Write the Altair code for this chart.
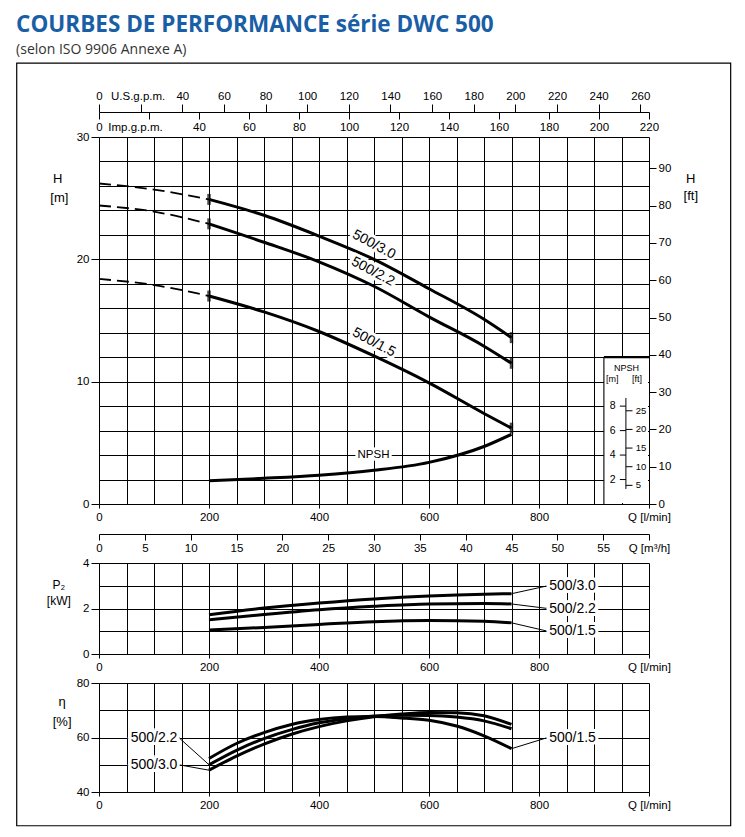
import altair as alt
import pandas as pd

# ---------------- data ----------------
SERIES = ["500/3.0", "500/2.2", "500/1.5"]

# H (m) vs Q (l/min)
Q_DASH = [0, 100, 200]
Q_SOLID = [200, 300, 400, 500, 600, 700, 750]
H_DASH = {
    "500/3.0": [26.2, 25.7, 24.9],
    "500/2.2": [24.4, 23.9, 22.9],
    "500/1.5": [18.4, 17.9, 17.0],
}
H_SOLID = {
    "500/3.0": [24.9, 23.6, 21.9, 20.0, 17.6, 15.1, 13.6],
    "500/2.2": [22.9, 21.4, 19.8, 17.8, 15.3, 12.9, 11.5],
    "500/1.5": [17.0, 15.7, 14.1, 12.1, 9.9, 7.4, 6.2],
}
Q_NPSH = [200, 300, 400, 500, 600, 700, 750]
NPSH = [1.9, 2.1, 2.35, 2.75, 3.4, 4.7, 5.7]

# P2 (kW)
Q_P2 = [200, 300, 400, 500, 600, 700, 750]
P2 = {
    "500/3.0": [1.73, 2.02, 2.24, 2.42, 2.55, 2.63, 2.65],
    "500/2.2": [1.50, 1.74, 1.95, 2.10, 2.20, 2.22, 2.20],
    "500/1.5": [1.05, 1.17, 1.30, 1.42, 1.47, 1.44, 1.37],
}

# efficiency (%)
Q_ETA = [200, 250, 300, 350, 400, 450, 500, 550, 600, 650, 700, 750]
ETA = {
    "500/3.0": [48.0, 53.2, 57.6, 61.2, 64.0, 66.1, 67.6, 68.6, 69.2, 69.1, 68.0, 64.8],
    "500/2.2": [50.0, 55.3, 59.6, 62.9, 65.4, 66.9, 67.9, 68.2, 68.1, 67.5, 66.1, 63.2],
    "500/1.5": [52.3, 57.8, 61.8, 64.8, 66.6, 67.5, 67.7, 67.2, 66.3, 64.2, 60.6, 55.9],
}

# ticks / grids
Q_GRID = list(range(0, 1001, 50))
H_GRID = list(range(0, 31, 2))
FT_TICKS = list(range(0, 91, 10))
US_TICKS = list(range(0, 261, 20))
IMP_TICKS = list(range(0, 221, 20))
M3H_TICKS = list(range(0, 61, 5))
P2_GRID = [0, 1, 2, 3, 4]
ETA_GRID = [40, 50, 60, 70, 80]
NPSH_M = [2, 4, 6, 8]
NPSH_FT = [5, 10, 15, 20, 25]

# unit conversions (to l/min and m)
L_PER_USG = 3.785
L_PER_IMPG = 4.545
M_PER_FT = 0.3048

# ---------------- styling ----------------
FONT = "Liberation Sans, Arial, sans-serif"
INK = "#000000"
W = 550
LINE_W = 3.0
AXF = 11.5
LAB = 14

ONE = pd.DataFrame({"k": [0]})

QSCALE = alt.Scale(domain=[0, 1000], nice=False, zero=False)
HSCALE = alt.Scale(domain=[0, 30], nice=False, zero=False)
PSCALE = alt.Scale(domain=[0, 4], nice=False, zero=False)
ESCALE = alt.Scale(domain=[40, 80], nice=False, zero=False)

GRID = dict(grid=True, gridColor=INK, gridOpacity=1, gridWidth=1)
LBL = dict(labelFont=FONT, labelFontSize=AXF, labelColor=INK, tickColor=INK, tickWidth=1)


def cond(test, a, b):
    return {"condition": {"test": test, "value": a}, "value": b}


def q_axis():
    return alt.Axis(values=Q_GRID, domain=False, format="d", **GRID, **LBL,
                    tickSize=4, tickOpacity=cond("datum.value % 200 == 0", 1, 0),
                    labelExpr="datum.value == 1000 ? 'Q [l/min]' : (datum.value % 200 == 0 ? datum.label : '')",
                    labelPadding=3, labelFlush=False, labelOverlap=False, title=None)


def y_axis(values, step):
    t = f"datum.value % {step} == 0"
    return alt.Axis(values=values, domain=False, format="d", **GRID, **LBL,
                    tickSize=8, tickOpacity=cond(t, 1, 0),
                    labelExpr=f"{t} ? datum.label : ''",
                    labelPadding=2, labelOverlap=False, title=None)


def XQ(f):
    return alt.X(f, type="quantitative", scale=QSCALE, axis=q_axis())


def YH(f, ax=False):
    return alt.Y(f, type="quantitative", scale=HSCALE, axis=y_axis(H_GRID, 10) if ax else None)


def YP(f):
    return alt.Y(f, type="quantitative", scale=PSCALE, axis=y_axis(P2_GRID, 2))


def YE(f):
    return alt.Y(f, type="quantitative", scale=ESCALE, axis=y_axis(ETA_GRID, 20))


def long_df(qs, d):
    rows = []
    for s, vals in d.items():
        for q, v in zip(qs, vals):
            rows.append({"Q": q, "v": v, "s": s})
    return pd.DataFrame(rows)


def plain_text(df, yfun, size=12, align="center"):
    return alt.Chart(df).mark_text(font=FONT, fontSize=size, color=INK, align=align,
                                   baseline="middle").encode(x=XQ("q"), y=yfun("v"), text="t:N")


def halo_text(df, yfun, size=LAB, angle=0):
    kw = dict(font=FONT, fontSize=size, align="center", baseline="middle")
    if angle:
        kw["angle"] = angle
    halo = alt.Chart(df).mark_text(stroke="white", strokeWidth=6, fill="white", **kw).encode(
        x=XQ("q"), y=yfun("v"), text="t:N")
    txt = alt.Chart(df).mark_text(color=INK, **kw).encode(x=XQ("q"), y=yfun("v"), text="t:N")
    return [halo, txt]


def dummy_y():
    return alt.Y("k:Q", scale=alt.Scale(domain=[0, 1]), axis=None)


# ---------------- panel A: top gpm axes (same l/min scale, converted ticks) ----------------
us_vals = [v * L_PER_USG for v in US_TICKS]
imp_vals = [v * L_PER_IMPG for v in IMP_TICKS]
us_test = f"abs(datum.value/{L_PER_USG} - 20) < 0.01"
imp_test = f"abs(datum.value/{L_PER_IMPG} - 20) < 0.01"
us_layer = alt.Chart(ONE).mark_point(opacity=0).encode(
    x=alt.X("k:Q", scale=QSCALE,
            axis=alt.Axis(orient="top", values=us_vals, offset=-5, tickSize=8, labelPadding=3,
                          grid=False, domainColor=INK, labelFlush=False, labelOverlap=False, **LBL,
                          labelExpr=f"{us_test} ? 'U.S.g.p.m.' : format(datum.value/{L_PER_USG}, '.0f')",
                          labelOffset=cond(us_test, -3, 0), title=None)),
    y=dummy_y())
imp_layer = alt.Chart(ONE).mark_point(opacity=0).encode(
    x=alt.X("k:Q", scale=QSCALE,
            axis=alt.Axis(orient="bottom", values=imp_vals, offset=4, tickSize=7, labelPadding=2,
                          grid=False, domain=False, labelFlush=False, labelOverlap=False, **LBL,
                          labelExpr=f"{imp_test} ? 'Imp.g.p.m.' : format(datum.value/{L_PER_IMPG}, '.0f')",
                          labelOffset=cond(imp_test, -14, 0), title=None)),
    y=dummy_y())
panel_a = alt.layer(us_layer, imp_layer).resolve_axis(x="independent").properties(width=W, height=1)

# ---------------- panel B: H-Q ----------------
df_solid = long_df(Q_SOLID, H_SOLID)
df_dash = long_df(Q_DASH, H_DASH)
df_npsh = pd.DataFrame({"Q": Q_NPSH, "v": NPSH})

solid = alt.Chart(df_solid).mark_line(color=INK, strokeWidth=LINE_W, interpolate="monotone").encode(
    x=XQ("Q"), y=YH("v", ax=True), detail="s:N")
dashed = alt.Chart(df_dash).mark_line(color=INK, strokeWidth=1.8, strokeDash=[12, 6],
                                      interpolate="monotone").encode(x=XQ("Q"), y=YH("v"), detail="s:N")
npsh_line = alt.Chart(df_npsh).mark_line(color=INK, strokeWidth=LINE_W, interpolate="monotone").encode(
    x=XQ("Q"), y=YH("v"))

mk_rows = []
for s in SERIES:
    mk_rows.append({"Q": Q_SOLID[0], "v": H_SOLID[s][0]})
    mk_rows.append({"Q": Q_SOLID[-1], "v": H_SOLID[s][-1]})
markers = alt.Chart(pd.DataFrame(mk_rows)).mark_tick(orient="vertical", color=INK, size=11,
                                                     thickness=3.5).encode(x=XQ("Q"), y=YH("v"))

# NPSH inset box (in plot units)
BOX = pd.DataFrame({"q1": [918], "q2": [1000], "h1": [0], "h2": [12]})
box_fill = alt.Chart(BOX).mark_rect(fill="white", x2Offset=-1, y2Offset=-1).encode(
    x=XQ("q1"), x2="q2", y=YH("h2"), y2="h1")
box_top = alt.Chart(BOX).mark_rule(color=INK, strokeWidth=2.2).encode(x=XQ("q1"), x2="q2", y=YH("h2"))
box_left = alt.Chart(BOX).mark_rule(color=INK, strokeWidth=1.1).encode(x=XQ("q1"), y=YH("h1"), y2="h2")
npsh_ax = alt.Chart(pd.DataFrame({"q": [958], "a": [1.23], "b": [8.67]})).mark_rule(
    color=INK, strokeWidth=1).encode(x=XQ("q"), y=YH("a"), y2="b")
df_m = pd.DataFrame({"v": NPSH_M, "q1": 947, "q2": 958, "q": 934, "t": [str(v) for v in NPSH_M]})
m_ticks = alt.Chart(df_m).mark_rule(color=INK, strokeWidth=1).encode(x=XQ("q1"), x2="q2", y=YH("v"))
m_labels = plain_text(df_m, YH, size=10.5)
df_ft = pd.DataFrame({"ft": NPSH_FT, "q1": 958, "q2": 970, "q": 976, "t": [str(v) for v in NPSH_FT]})
ft_ticks = alt.Chart(df_ft).transform_calculate(v=f"datum.ft * {M_PER_FT}").mark_rule(
    color=INK, strokeWidth=1).encode(x=XQ("q1"), x2="q2", y=YH("v:Q"))
ft_labels = alt.Chart(df_ft).transform_calculate(v=f"datum.ft * {M_PER_FT}").mark_text(
    font=FONT, fontSize=9.5, color=INK, align="left", baseline="middle").encode(
    x=XQ("q"), y=YH("v:Q"), text="t:N")
df_boxtxt = pd.DataFrame({"q": [959, 933, 978], "v": [11.15, 10.2, 10.2], "t": ["NPSH", "[m]", "[ft]"]})
box_txt = plain_text(df_boxtxt, YH, size=9)

# right-hand ft axis on the same metre scale
ft_vals = [v * M_PER_FT for v in FT_TICKS]
ft_axis_layer = alt.Chart(ONE).mark_point(opacity=0).encode(
    x=XQ("k"),
    y=alt.Y("k:Q", scale=HSCALE,
            axis=alt.Axis(orient="right", values=ft_vals, grid=False, domain=False, tickSize=7,
                          labelPadding=2, labelOverlap=False, **LBL,
                          labelExpr=f"format(datum.value / {M_PER_FT}, '.0f')", title=None)))

df_lab = pd.DataFrame({"q": [500, 498, 500], "v": [21.2, 19.0, 13.2], "t": SERIES})
curve_labels = halo_text(df_lab, YH, angle=28)
df_nl = pd.DataFrame({"q": [499], "v": [4.0], "t": ["NPSH"]})
npsh_label = halo_text(df_nl, YH, size=11.5)

# unit captions beside the H axes
df_hcap = pd.DataFrame({"q": [-75, -72, 1076, 1076], "v": [26.56, 25.05, 26.56, 25.15],
                        "t": ["H", "[m]", "H", "[ft]"]})
h_caps = plain_text(df_hcap, YH, size=13)

# outer frame around the whole figure (plot units of this panel)
FRAME = pd.DataFrame({"q1": [-149.6], "q2": [1148.5], "h1": [36.04], "h2": [-26.3]})
frame = alt.Chart(FRAME).mark_rect(fill="transparent", stroke=INK, strokeWidth=1.2).encode(
    x=XQ("q1"), x2="q2", y=YH("h1"), y2="h2")

panel_b = alt.layer(
    solid, ft_axis_layer, box_fill, dashed, npsh_line, markers, box_top, box_left, npsh_ax,
    m_ticks, m_labels, ft_ticks, ft_labels, box_txt, *curve_labels, *npsh_label, h_caps, frame,
).resolve_axis(y="independent").properties(width=W, height=367)

# ---------------- panel C: m3/h axis ----------------
panel_c = alt.Chart(ONE).mark_point(opacity=0).encode(
    x=alt.X("k:Q", scale=alt.Scale(domain=[0, 60], nice=False, zero=False),
            axis=alt.Axis(orient="bottom", values=M3H_TICKS, tickSize=6, labelPadding=2,
                          grid=False, domainColor=INK, labelFlush=False, labelOverlap=False, format="d", **LBL,
                          labelExpr="datum.value == 60 ? 'Q [m³/h]' : datum.label", title=None)),
    y=dummy_y()).properties(width=W, height=1)

# ---------------- panel D: P2 ----------------
df_p2 = long_df(Q_P2, P2)
p2_lines = alt.Chart(df_p2).mark_line(color=INK, strokeWidth=LINE_W, interpolate="monotone").encode(
    x=XQ("Q"), y=YP("v"), detail="s:N")
P2_LAB_LEVEL = [3.0, 2.0, 1.0]
df_p2lead = pd.DataFrame({"q1": [Q_P2[-1]] * 3, "v1": [P2[s][-1] for s in SERIES],
                          "q2": [816] * 3, "v2": P2_LAB_LEVEL})
p2_leads = alt.Chart(df_p2lead).mark_rule(color=INK, strokeWidth=1).encode(
    x=XQ("q1"), y=YP("v1"), x2="q2", y2="v2")
df_p2lab = pd.DataFrame({"q": [861] * 3, "v": P2_LAB_LEVEL, "t": SERIES})
p2_labels = halo_text(df_p2lab, YP)
p2_caps = plain_text(pd.DataFrame({"q": [-73, -73], "v": [3.05, 2.32], "t": ["P₂", "[kW]"]}), YP, size=12)
panel_d = alt.layer(p2_lines, p2_leads, *p2_labels, p2_caps).properties(width=W, height=91)

# ---------------- panel E: efficiency ----------------
df_eta = long_df(Q_ETA, ETA)
eta_lines = alt.Chart(df_eta).mark_line(color=INK, strokeWidth=LINE_W, interpolate="monotone").encode(
    x=XQ("Q"), y=YE("v"), detail="s:N")
df_elead = pd.DataFrame({
    "q1": [145, 145, Q_ETA[-1]],
    "v1": [60, 50, ETA["500/1.5"][-1]],
    "q2": [Q_ETA[0], Q_ETA[0], 816],
    "v2": [ETA["500/2.2"][0], ETA["500/3.0"][0], 60],
})
eta_leads = alt.Chart(df_elead).mark_rule(color=INK, strokeWidth=1).encode(
    x=XQ("q1"), y=YE("v1"), x2="q2", y2="v2")
df_elab = pd.DataFrame({"q": [100, 100, 861], "v": [60, 50, 60],
                        "t": ["500/2.2", "500/3.0", "500/1.5"]})
eta_labels = halo_text(df_elab, YE)
eta_caps = plain_text(pd.DataFrame({"q": [-67, -67], "v": [72.9, 65.6], "t": ["η", "[%]"]}), YE, size=13)
panel_e = alt.layer(eta_lines, eta_leads, *eta_labels, eta_caps).properties(width=W, height=109)

chart = alt.vconcat(panel_a, panel_b, panel_c, panel_d, panel_e, spacing=29, bounds="flush").properties(
    title=alt.TitleParams(
        text="COURBES DE PERFORMANCE série DWC 500",
        subtitle="(selon ISO 9906 Annexe A)",
        anchor="start", frame="bounds", font="Open Sans", fontSize=22.5, fontWeight="bold",
        color="#1a5ea6", subtitleFont="Open Sans", subtitleFontSize=14, subtitleColor="#333333",
        subtitlePadding=6, offset=6),
    padding={"left": 8, "top": 6, "right": 5, "bottom": 5},
).configure(
    font=FONT, background="white",
    view=alt.ViewConfig(stroke="transparent", strokeWidth=0),
    axis=alt.AxisConfig(labelFont=FONT, labelFontSize=AXF, labelColor=INK, tickColor=INK,
                        domainColor=INK, tickWidth=1, domainWidth=1),
)

chart.save("out.html", embed_options={"renderer": "svg", "actions": False})
